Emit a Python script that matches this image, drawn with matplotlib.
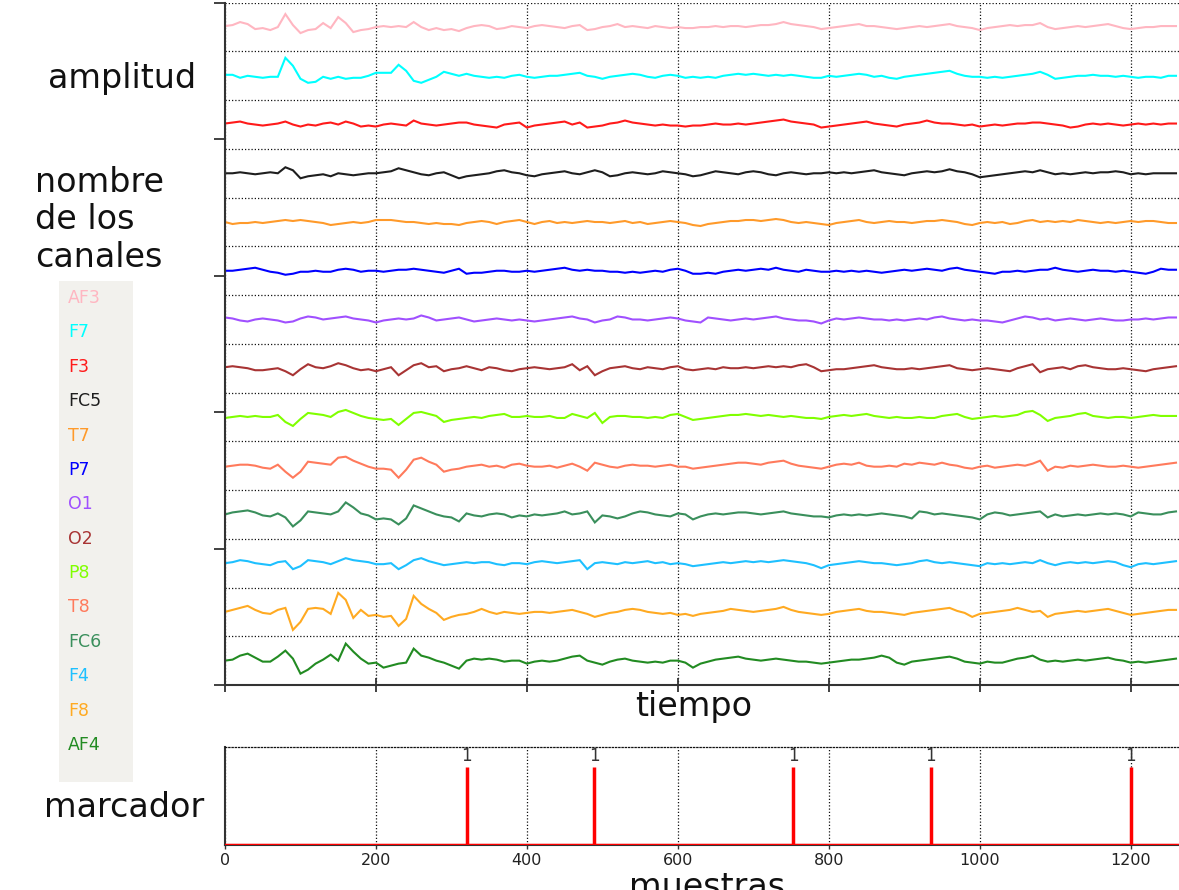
import numpy as np
import matplotlib
matplotlib.use("Agg")
import matplotlib.pyplot as plt

plt.rcParams['font.family'] = ['DejaVu Sans']

# ---------------- data ----------------
channel_names = ["AF3", "F7", "F3", "FC5", "T7", "P7", "O1", "O2",
                 "P8", "T8", "FC6", "F4", "F8", "AF4"]

sample_step = 10  # samples between stored points

af3 = [1, 2, 5, 3, -2, -1, -3, 0, 13, 2,
       -6, -3, -2, 4, -1, 10, 4, -5, -3, -2,
       0, 1, 0, 1, 0, 5, 0, -3, -1, -3,
       -2, -4, -1, 1, 2, 1, -2, -1, 1, 0,
       -1, 1, 2, 1, 0, -1, 1, 2, -3, -2,
       0, 1, 3, 0, 1, 0, -1, 1, 0, -1,
       0, -1, -1, 0, 0, 1, 0, 1, 1, 0,
       1, 2, 2, 3, 5, 3, 2, 1, 0, -2,
       -1, 0, 1, 2, 3, 1, 1, 0, -1, -2,
       -1, 0, 1, 0, 1, 2, 3, 1, 0, -1,
       -3, -1, 0, 1, 2, 1, 2, 2, 4, 0,
       -2, -1, 0, 1, 0, 1, 2, 3, 1, -1,
       -2, -1, 0, 0, 1, 1, 1]
f7 = [1, 1, -2, 0, -1, -2, -1, -1, 18, 10,
      -3, -7, -6, -1, -3, -1, -3, -2, -2, 0,
      3, 3, 3, 11, 5, -5, -7, -4, -1, 4,
      2, 0, 2, 0, -1, -2, -1, -2, 0, 1,
      -1, -2, -1, 0, 0, 1, 2, 3, 0, -1,
      -3, -1, 0, 1, 2, 1, -1, -2, 0, 1,
      0, -2, -1, -2, -1, -2, 0, 1, 2, 1,
      2, 1, 0, 1, 0, 1, 0, -1, -2, -2,
      0, -1, 0, 1, 2, 1, -1, 0, -2, -3,
      -1, 0, 1, 2, 3, 4, 5, 2, 0, -1,
      -1, -2, -1, -2, -1, 0, 1, 2, 4, 1,
      -3, -2, -1, 0, 0, 1, 0, 0, -1, 0,
      -1, -2, -1, -1, -2, 0, 0]
f3 = [1, 2, 3, 1, 0, -1, 0, 1, 3, 0,
      -2, 0, -1, 1, 2, 0, 3, 1, -2, -1,
      -2, 0, 1, 0, -1, 4, 1, 0, -1, 0,
      1, 2, 2, 0, -1, -2, -3, 0, 1, 2,
      -3, -1, 0, 1, 2, 3, 0, 2, -3, -2,
      -1, 1, 2, 4, 2, 1, 0, -1, 0, -1,
      -1, -2, -1, -1, 0, 1, 0, 0, 1, 0,
      1, 2, 3, 4, 5, 3, 2, 1, 0, -3,
      -2, -1, 0, 1, 2, 3, 1, 0, -1, -2,
      0, 1, 2, 4, 2, 1, 1, 0, -1, 0,
      -2, -1, 0, -1, 0, 1, 1, 2, 2, 1,
      0, -1, -3, -2, 0, 1, 0, 1, 0, -1,
      0, 1, 0, 1, 0, 1, 1]
fc5 = [0, 0, 1, 0, -1, 0, 1, 0, 6, 3,
       -5, -3, -2, -1, -3, 0, -1, -2, -1, 0,
       0, 1, 2, 5, 3, 1, -1, -2, 0, 1,
       -2, -5, -3, -2, -1, 0, 2, 3, 1, 0,
       -2, -3, -1, 0, 1, 2, 0, -1, 1, 3,
       1, -3, -2, 0, 1, 0, -1, 0, 2, 1,
       0, -1, -3, -2, 0, 2, 1, 0, -1, 1,
       2, 1, -1, -2, 0, 1, 0, -1, 0, 0,
       1, 0, 1, 0, 1, 2, 3, 1, 0, -1,
       -2, 0, 1, 2, 1, 2, 4, 2, 1, -1,
       -4, -3, -2, -1, 0, 1, 2, 1, 3, 1,
       -1, 0, -1, 0, 1, 0, 1, 1, 2, 1,
       -1, 0, -1, 0, 0, 0, 0]
t7 = [0, -2, -1, -1, 0, -1, 0, 1, 2, 1,
      2, 1, 0, -1, -3, -2, -1, 0, -1, 0,
      2, 2, 2, 1, 0, 0, -1, -2, -1, -2,
      -2, -3, -1, 0, 1, 0, -2, 0, 1, 2,
      0, -2, 0, 1, -1, 0, -1, 0, 1, 0,
      0, -1, 0, 1, -1, 0, -2, -1, 0, 1,
      0, -1, -3, -4, -2, -1, 0, 1, 1, 2,
      2, 1, 2, 3, 2, 0, -1, 0, -1, -2,
      -3, -1, 0, 1, 2, 0, -1, 0, 1, 0,
      0, -1, 0, 1, 1, 2, 1, 0, -2, -3,
      -1, 0, -1, 0, -2, -1, 1, 2, 0, 1,
      0, 1, 0, 2, 1, 0, -1, 0, -1, 0,
      1, 0, 1, 1, 0, -1, -1]
p7 = [0, 0, 1, 2, 3, 1, -1, -2, -4, -3,
      -1, -1, 0, -1, -1, 1, 2, 1, -1, 0,
      0, -1, 0, 1, 1, 2, 1, 0, -1, -2,
      0, 2, -3, -2, -2, -1, 0, 0, -1, -1,
      0, -1, 0, 1, 2, 3, 1, 0, 1, 0,
      0, -1, -1, -2, -1, -2, -1, 0, -1, 1,
      2, 0, -3, -3, -2, -3, -1, 0, 1, 0,
      1, 2, 1, 3, 1, 0, -1, 1, 0, -1,
      -1, 0, -1, 0, -1, 0, -1, -2, -1, 0,
      1, 0, 1, 2, 1, 0, 2, 3, 1, 0,
      -1, -2, -3, -1, -1, 0, -1, 0, 1, 1,
      3, 1, 0, -1, 0, 1, 0, 0, -1, 0,
      -1, -2, -3, -1, 2, 1, 1]
o1 = [2, 1, -1, -2, 0, 1, 0, -1, -3, -2,
      1, 3, 2, 0, 1, 2, 3, 1, 0, -1,
      -3, -1, 0, 1, 0, 1, 4, 2, -1, 0,
      1, 2, 0, -2, -1, 0, 1, 0, -1, 0,
      -1, -2, -1, 0, 1, 2, 3, 1, 0, -3,
      -1, 0, 3, 2, 0, 0, -1, 0, 1, 2,
      1, -1, -2, -3, 2, 1, 0, -1, 0, 1,
      0, 1, 2, 3, 1, 0, -1, -1, -2, -4,
      -1, 1, 0, 1, 2, 1, 0, 0, -1, 0,
      -1, 0, 1, 0, 2, 3, 1, 0, -1, 0,
      -1, -1, -2, -3, -1, 1, 3, 2, 0, 1,
      -1, 0, 1, 0, -1, 0, 1, 0, -1, -1,
      0, 0, 1, 0, 1, 2, 2]
o2 = [1, 2, 1, 0, -2, -2, -1, 0, -3, -7,
      -1, 4, 1, 0, 2, 5, 3, 0, -2, -1,
      -3, -1, 1, -7, -2, 3, 5, 1, 2, -3,
      -1, 0, 2, 0, -2, 1, 0, -2, -3, -1,
      0, 1, 0, -1, 0, 1, 4, -2, 2, -7,
      -3, 0, 1, 2, 0, -1, 1, 0, -1, 1,
      2, -1, -2, -1, 0, -1, 1, 0, 0, 1,
      0, 1, 2, 1, 2, 1, 3, 4, 1, -3,
      -2, -1, -1, 0, 1, 2, 3, 1, 0, -1,
      -1, 0, -1, 0, 1, 2, 3, 0, -1, -2,
      -1, 0, -1, -2, -3, 0, 2, 4, -4, -1,
      0, 1, -1, 2, 3, 1, 0, -1, -1, 0,
      -1, -2, -3, -1, 0, 1, 2]
p8 = [-1, 0, 1, 0, 1, 0, 0, 2, -5, -9,
      -2, 4, 3, 2, 0, 5, 7, 4, 1, -1,
      -2, -3, -2, -8, -2, 4, 5, 3, 1, -5,
      -3, -2, -1, 0, -1, 1, 2, 3, 0, 0,
      1, 0, 0, 1, -1, -1, 3, 1, -1, 4,
      -6, 0, 1, 1, 0, 0, -1, 0, -1, 2,
      3, 0, -3, -2, -1, 0, 1, 2, 2, 3,
      2, 1, 2, 1, 0, 1, 0, -1, -1, -2,
      0, 1, 2, 1, 2, 3, 1, 0, -1, 0,
      -1, -1, 0, -1, -1, 1, 2, 3, 0, -2,
      -1, 0, 1, 0, 1, 2, 5, 6, 2, -4,
      -1, 0, 1, 3, 4, 1, 0, -1, 0, 0,
      -1, 0, 1, 2, 1, 1, 1]
t8 = [-1, 0, 1, 1, 0, -2, -3, 1, -6, -12,
      -6, 4, 3, 2, 1, 8, 9, 5, 2, -1,
      -3, -3, -4, -12, -4, 6, 8, 4, 1, -6,
      -4, -3, -1, 0, 1, -1, 0, -2, 1, 2,
      0, -1, -1, 0, -2, 0, 2, -1, -5, 3,
      1, -1, -2, 0, 1, 0, 0, -1, 0, 1,
      -1, -1, -3, -2, -1, 0, 1, 2, 3, 3,
      2, 1, 3, 4, 5, 2, 0, -1, -2, -3,
      -1, 1, 2, 1, 3, 0, -1, -1, 0, -1,
      2, 1, 3, 2, 1, 3, 1, 0, -2, -3,
      -1, 0, -2, -1, 0, 1, 0, 2, 5, -5,
      -1, -2, 0, -1, 0, 1, 0, -1, -1, 0,
      -1, -2, -1, 0, 1, 2, 3]
fc6 = [0, 2, 3, 4, 2, -1, -2, 1, -3, -12,
       -6, 3, 2, 1, 0, 3, 12, 7, 1, -1,
       -5, -4, -5, -10, -4, 9, 6, 3, 0, -2,
       -3, -7, 1, -1, -2, 0, 1, 0, -3, -1,
       -2, 0, -1, 0, 1, 3, 0, 1, 3, -8,
       -1, -2, -4, -2, 1, 3, 2, 0, -1, -2,
       1, 0, -5, -2, 0, 1, 0, 1, 2, 2,
       1, 0, 1, 2, 3, 1, 0, -1, -2, -2,
       -3, -1, 0, -1, 0, -1, 0, 1, 0, -1,
       -2, -4, 3, 2, 0, 1, 0, -1, -2, -3,
       -5, 0, 2, 1, -1, 0, 1, 2, 3, -3,
       0, -2, -1, 0, -1, 0, 1, 0, 1, 0,
       -2, 2, 1, 0, 0, 2, 3]
f4 = [0, 1, 3, 2, 0, -1, -2, 1, 2, -6,
      -3, 3, 2, 1, -1, 2, 5, 3, 2, 1,
      -1, -1, 0, -6, -2, 3, 5, 2, 0, -2,
      -1, 0, 1, 0, 1, 1, -1, -2, 0, 0,
      -1, 1, 2, 1, 0, 1, 2, 3, -6, 0,
      1, 0, -1, 1, 0, 1, 2, 0, 1, -1,
      0, -1, -3, -2, -1, 0, 1, 0, 1, 2,
      1, 2, 1, 2, 3, 2, 1, 0, -2, -5,
      -2, -1, 0, 1, 2, 1, 0, 0, -1, -2,
      -1, 0, 2, 3, 1, 0, 1, 0, -1, -2,
      -3, 0, -1, 0, -1, 0, 1, 0, 3, 0,
      -2, 0, 1, 0, 1, 0, 1, 2, 1, -2,
      -4, -1, 0, -1, 0, 1, 2]
f8 = [0, 2, 4, 6, 2, -1, -2, 2, 4, -18,
      -10, 3, 4, 3, -2, 19, 12, -6, 2, -4,
      -3, -5, -4, -14, -7, 16, 8, 3, -1, -8,
      -5, -3, -2, 0, 3, 0, -2, 0, -1, -2,
      -1, 0, 0, -1, 0, 1, 2, 0, -2, -5,
      -3, -1, 0, 2, 3, 2, 0, -1, -2, -1,
      -3, -2, -4, -2, -1, 0, 1, 3, 2, 1,
      0, 1, 2, 3, 5, 2, 0, -1, -2, -3,
      -2, 0, 1, 2, 3, 1, 0, 0, -1, -2,
      -3, -1, 0, 1, 2, 3, 4, 1, -1, -5,
      -2, -1, 0, 1, 2, 4, 2, 0, 1, -5,
      -2, -1, 0, 1, 0, 1, 2, 3, 1, -1,
      -3, -2, -1, 0, 1, 2, 2]
af4 = [0, 1, 5, 7, 3, -1, -1, 4, 10, 2,
       -13, -9, -3, 1, 6, 0, 17, 9, 2, -3,
       -2, -7, -5, -3, -2, 12, 5, 3, 0, -2,
       -5, -8, 0, 2, 1, 2, 1, -1, 0, 0,
       -3, -1, 0, -1, 0, 2, 4, 5, 0, -2,
       -4, -1, 1, 2, 0, -1, -2, -1, -2, 0,
       0, -2, -7, -3, -1, 1, 2, 3, 4, 2,
       1, 0, 1, 2, 1, 0, -1, -1, -2, -3,
       -2, -1, 0, 1, 1, 2, 3, 5, 3, -2,
       -4, -1, 0, 1, 2, 3, 4, 2, -1, -2,
       -3, -1, -2, -2, 0, 2, 3, 5, 1, -1,
       0, -1, 0, 1, 0, 1, 2, 3, 1, 0,
       -2, -1, -2, -1, 0, 1, 2]

signals = [af3, f7, f3, fc5, t7, p7, o1, o2, p8, t8, fc6, f4, f8, af4]

marker_samples = [320, 489, 753, 935, 1200]
marker_values = [1, 1, 1, 1, 1]

x_ticks = [0, 200, 400, 600, 800, 1000, 1200]

# ---------------- style ----------------
channel_colors = ["#ffb6c1", "#00ffff", "#ff1a1a", "#1e1e1e", "#ff9a2a",
                  "#0000ff", "#a050ff", "#a83434", "#80ff00", "#ff7a5c",
                  "#3a8f5c", "#1ec0ff", "#ffaa22", "#228b22"]

W, H = 1179, 890
def fx(px):
    return px / W
def fy(py):
    return 1 - py / H

SPACING = 48.7     # amplitude units between channel baselines
N = len(channel_names)
XMAX = 1264

fig = plt.figure(figsize=(W / 100, H / 100), dpi=100)

grid_kw = dict(color="#111111", linestyle=(0, (1, 1.6)), linewidth=0.9)
spine_col = "#333333"

# ---- main EEG axes ----
ax = fig.add_axes([fx(225), fy(685), fx(W) - fx(225), fy(2.7) - fy(685)])
for i, (sig, col) in enumerate(zip(signals, channel_colors)):
    sig = np.asarray(sig, dtype=float)
    xs = np.arange(len(sig)) * sample_step
    base = (N - 1 - i + 0.5) * SPACING
    ax.plot(xs, base + sig, color=col, lw=1.5, solid_joinstyle="miter")

ax.set_xlim(0, XMAX)
ax.set_ylim(0, N * SPACING)
ax.set_xticks(x_ticks)
ax.set_xticklabels([])
ax.set_yticks(np.linspace(0, N * SPACING, 6))
ax.set_yticklabels([])
ax.set_yticks(np.arange(N + 1) * SPACING, minor=True)
ax.yaxis.remove_overlapping_locs = False
ax.tick_params(axis="y", which="major", direction="out", length=8, width=1.3, color=spine_col)
ax.tick_params(axis="y", which="minor", length=0)
ax.tick_params(axis="x", which="major", direction="inout", length=10, width=1.3, color=spine_col)
ax.grid(True, axis="x", which="major", **grid_kw)
ax.grid(True, axis="y", which="minor", **grid_kw)
ax.grid(False, axis="y", which="major")
for s in ("top", "right"):
    ax.spines[s].set_visible(False)
for s in ("left", "bottom"):
    ax.spines[s].set_color(spine_col)
    ax.spines[s].set_linewidth(1.5)

# ---- marker axes ----
bx = fig.add_axes([fx(225), fy(845), fx(W) - fx(225), fy(747) - fy(845)])
bx.set_xlim(0, XMAX)
bx.set_ylim(0, 1.25)
bx.axhline(0, color="#ff0000", lw=2.5, zorder=3)
bx.vlines(marker_samples, 0, marker_values, color="#ff0000", lw=2.5, zorder=3)
for xm, vm in zip(marker_samples, marker_values):
    bx.text(xm, vm + 0.02, str(vm), ha="center", va="bottom", fontsize=12, color="#333333")
bx.set_xticks(x_ticks)
bx.set_xticklabels([str(t) for t in x_ticks], fontsize=11.5, color="#222222")
bx.set_yticks([])
bx.tick_params(axis="x", direction="out", length=3, width=1.0, pad=3, color=spine_col)
bx.grid(True, axis="x", **grid_kw)
bx.spines["right"].set_visible(False)
bx.spines["top"].set_color("#111111")
bx.spines["top"].set_linestyle((0, (1, 1.6)))
bx.spines["top"].set_linewidth(0.9)
for s in ("left", "bottom"):
    bx.spines[s].set_color(spine_col)
    bx.spines[s].set_linewidth(1.5)

# ---- channel name panel ----
lx = fig.add_axes([fx(59), fy(782), fx(133) - fx(59), fy(281) - fy(782)])
lx.set_facecolor("#f2f1ed")
lx.set_xticks([])
lx.set_yticks([])
for s in lx.spines.values():
    s.set_visible(False)
for i, (name, col) in enumerate(zip(channel_names, channel_colors)):
    fig.text(fx(68), fy(298 + i * 34.38), name, color=col, fontsize=12.5,
             ha="left", va="center")

# ---- captions ----
txt = dict(fontsize=24, color="#111111")
fig.text(fx(48), fy(88), "amplitud", ha="left", va="baseline", **txt)
fig.text(fx(35), fy(192), "nombre", ha="left", va="baseline", **txt)
fig.text(fx(35), fy(229), "de los", ha="left", va="baseline", **txt)
fig.text(fx(35), fy(267), "canales", ha="left", va="baseline", **txt)
fig.text(fx(694), fy(716), "tiempo", ha="center", va="baseline", **txt)
fig.text(fx(44), fy(817), "marcador", ha="left", va="baseline", **txt)
fig.text(fx(707), fy(897), "muestras", ha="center", va="baseline", **txt)

fig.savefig("out.png", dpi=100)
